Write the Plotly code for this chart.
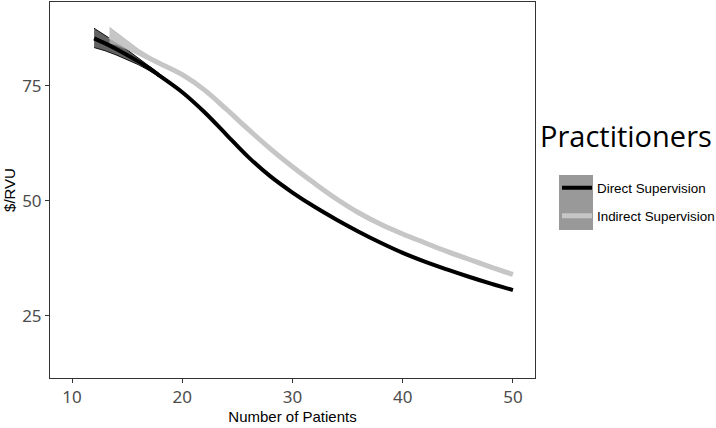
import plotly.graph_objects as go

# ---- data ----
direct_x = [12, 13, 14, 15, 16, 17, 18, 20, 22, 24, 26, 28, 30, 32, 34, 36, 38, 40, 42, 44, 46, 48, 50]
direct_y = [85.3, 84.2, 83.0, 81.7, 80.3, 78.8, 77.1, 73.6, 69.3, 64.4, 59.5, 55.3, 51.8, 48.7, 45.9,
            43.3, 40.9, 38.7, 36.8, 35.1, 33.5, 32.0, 30.6]

indirect_x = [13.4, 14, 15, 16, 17, 18, 20, 22, 24, 26, 28, 30, 32, 34, 36, 38, 40, 42, 44, 46, 48, 50]
indirect_y = [85.8, 85.0, 83.6, 82.3, 81.0, 79.8, 77.4, 74.1, 69.9, 65.5, 61.3, 57.4, 53.8, 50.4,
              47.4, 44.9, 42.8, 40.9, 39.0, 37.3, 35.6, 34.0]

direct_band_x = [12, 13, 14, 15, 16, 17, 18]
direct_lo = [83.3, 82.6, 81.7, 80.7, 79.6, 78.3, 76.8]
direct_hi = [87.5, 86.0, 84.4, 82.8, 81.1, 79.3, 77.5]

indirect_band_x = [13.4, 14, 15, 16, 17, 18]
indirect_lo = [84.2, 83.9, 82.9, 81.8, 80.6, 79.4]
indirect_hi = [87.7, 86.6, 84.8, 83.0, 81.5, 80.0]

x_ticks = [10, 20, 30, 40, 50]
y_ticks = [25, 50, 75]

series_names = ["Direct Supervision", "Indirect Supervision"]
legend_title = "Practitioners"

BLACK = "#000000"
LIGHT = "#c6c6c6"

fig = go.Figure()

# confidence ribbons
fig.add_trace(go.Scatter(
    x=direct_band_x + direct_band_x[::-1], y=direct_hi + direct_lo[::-1],
    fill="toself", fillcolor="rgba(70,70,70,0.85)", mode="lines",
    line=dict(color="rgba(0,0,0,0.9)", width=1), showlegend=False, hoverinfo="skip"))
fig.add_trace(go.Scatter(
    x=indirect_band_x + indirect_band_x[::-1], y=indirect_hi + indirect_lo[::-1],
    fill="toself", fillcolor="rgba(185,185,185,0.8)", mode="lines",
    line=dict(color="rgba(170,170,170,0.6)", width=1), showlegend=False, hoverinfo="skip"))

fig.add_trace(go.Scatter(x=direct_x, y=direct_y, mode="lines", name=series_names[0],
                         line=dict(color=BLACK, width=4, shape="spline", smoothing=1.0),
                         legend="legend"))
fig.add_trace(go.Scatter(x=indirect_x, y=indirect_y, mode="lines", name=series_names[1],
                         line=dict(color=LIGHT, width=5, shape="spline", smoothing=1.0),
                         legend="legend2"))

L, R, T, B = 50, 181, 2, 50
W, H = 716, 428
pw, ph = W - L - R, H - T - B


def px2paper(px, py):
    return (px - L) / pw, (H - B - py) / ph


axis_common = dict(showgrid=False, zeroline=False, showline=True, mirror=True,
                   linecolor="#333333", linewidth=1, ticks="outside", ticklen=4,
                   tickcolor="#333333", tickfont=dict(family="Noto Sans", size=17, color="#4d4d4d"))

fig.update_xaxes(range=[8, 52], tickvals=x_ticks,
                 title=dict(text="Number of Patients", font=dict(family="Liberation Sans", size=15, color="#000"),
                            standoff=1),
                 **axis_common)
fig.update_yaxes(range=[11.5, 93.2], tickvals=y_ticks,
                 title=dict(text="$/RVU", font=dict(family="Liberation Sans", size=15, color="#000"),
                            standoff=2),
                 **axis_common)

lx, ly1 = px2paper(557, 188)
_, ly2 = px2paper(557, 216)
leg_font = dict(family="Liberation Sans", size=13.4, color="#000")
fig.update_layout(
    width=W, height=H,
    margin=dict(l=L, r=R, t=T, b=B, autoexpand=False),
    paper_bgcolor="white", plot_bgcolor="white",
    legend=dict(x=lx, y=ly1, xanchor="left", yanchor="middle", font=leg_font,
                bgcolor="rgba(0,0,0,0)", itemclick=False),
    legend2=dict(x=lx, y=ly2, xanchor="left", yanchor="middle", font=leg_font,
                 bgcolor="rgba(0,0,0,0)", itemclick=False),
    showlegend=True,
)

# legend title and grey key background
tx, ty = px2paper(538, 135)
fig.add_annotation(x=tx, y=ty, xref="paper", yref="paper", text=legend_title, showarrow=False,
                   xanchor="left", yanchor="middle", font=dict(family="Open Sans", size=29, color="#000"))
bx0, by0 = px2paper(559, 230)
bx1, by1 = px2paper(593, 175)
fig.add_shape(type="rect", xref="paper", yref="paper", x0=bx0, x1=bx1, y0=by0, y1=by1,
              fillcolor="#999999", line=dict(width=0), layer="below")

fig.write_html("out.html", config={"displayModeBar": False},
               post_script="document.body.style.margin='0px';")
